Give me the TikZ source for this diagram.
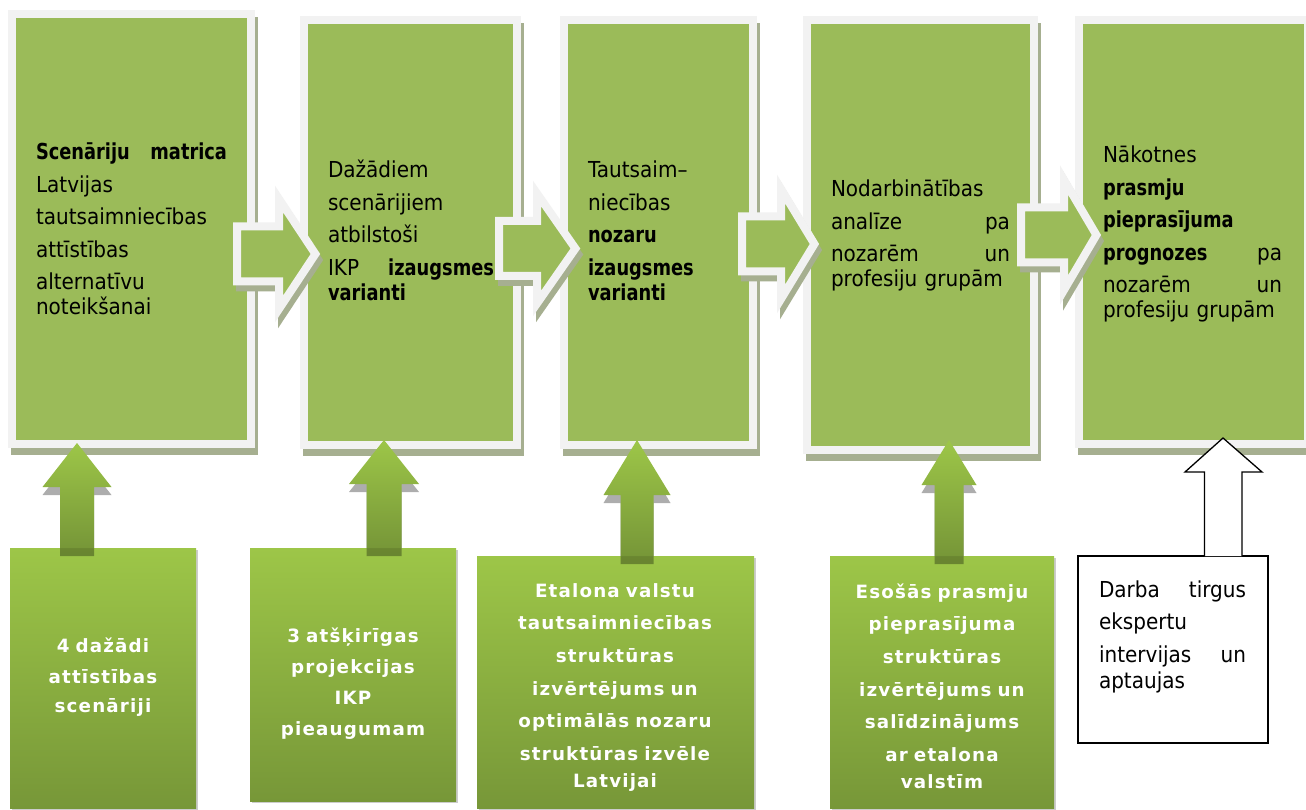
\documentclass[tikz,border=0pt]{standalone}
\usepackage{fontspec}
\setmainfont{DejaVu Sans}[UprightFeatures={FakeStretch=0.91}, BoldFeatures={FakeStretch=0.81}]
\newfontfamily\wfont{DejaVu Sans}[LetterSpace=6.3]
\definecolor{tgreen}{RGB}{155,187,89}
\definecolor{tframe}{RGB}{242,242,242}
\definecolor{tshadow}{RGB}{166,175,144}
\definecolor{gtop}{RGB}{157,198,72}
\definecolor{gbot}{RGB}{119,151,56}
\tikzset{
  topbox/.style={rectangle, draw=tframe, fill=tgreen, line width=8pt, inner sep=0pt, outer sep=0pt, anchor=north west},
  rarrow/.style={fill=tgreen, draw=tframe, line width=8pt, line join=miter},
  rshadow/.style={fill=tshadow, draw=tshadow, line width=8pt, line join=miter},
  blackt/.style={inner sep=0pt, outer sep=0pt, anchor=base west, align=left, text=black, font=\fontsize{22}{32.5}\selectfont},
  whitet/.style={inner sep=0pt, outer sep=0pt, anchor=base, align=center, text=white, font=\wfont\bfseries\fontsize{18.3}{32.7}\selectfont},
  botbox/.style={rectangle, inner sep=0pt, outer sep=0pt, anchor=north west, top color=gtop, bottom color=gbot, draw=none},
  upshadow/.style={fill=black, fill opacity=0.32},
  uparrow/.style={top color=gtop, bottom color=gbot, draw=none},
  whitebox/.style={rectangle, draw=black, fill=white, line width=1.3pt, inner sep=0pt, outer sep=0pt, anchor=north west},
}
% top box: name, outer x1 y1 x2 y2
\newcommand\topbx[5]{%
  \fill[tshadow] ({#2+3},{#3+7}) rectangle ({#4+3},{#5+7});
  \node[topbox, minimum width=#4pt-#2pt-8pt, minimum height=#5pt-#3pt-8pt] (#1) at ({#2+4},{#3+4}) {};
}
% right block arrow: outer left L, centre C, outer head back H, outer tip X
\newcommand\rarr[4]{%
  \path[rshadow, shift={(3,6)}] ({#1+4},{#2-27.5}) -- ({#3+4},{#2-27.5}) -- ({#3+4},{#2-55}) -- ({#4-6.6},#2) -- ({#3+4},{#2+55}) -- ({#3+4},{#2+27.5}) -- ({#1+4},{#2+27.5}) -- cycle;
  \path[rarrow] ({#1+4},{#2-27.5}) -- ({#3+4},{#2-27.5}) -- ({#3+4},{#2-55}) -- ({#4-6.6},#2) -- ({#3+4},{#2+55}) -- ({#3+4},{#2+27.5}) -- ({#1+4},{#2+27.5}) -- cycle;
}
% bottom box: name x1 y1 x2 y2
\newcommand\botbx[5]{%
  \fill[black!20] ({#2+2},{#3+2}) rectangle ({#4+2},{#5+2});
  \node[botbox, minimum width=#4pt-#2pt, minimum height=#5pt-#3pt] (#1) at (#2,#3) {};
}
% up arrow: cx tip base hw sw bottom
\newcommand\uparr[6]{%
  \fill[upshadow, shift={(0,8)}] (#1,#2) -- ({#1+#4},#3) -- ({#1+#5},#3) -- ({#1+#5},#6) -- ({#1-#5},#6) -- ({#1-#5},#3) -- ({#1-#4},#3) -- cycle;
  \path[uparrow] (#1,#2) -- ({#1+#4},#3) -- ({#1+#5},#3) -- ({#1+#5},#6) -- ({#1-#5},#6) -- ({#1-#5},#3) -- ({#1-#4},#3) -- cycle;
}
\begin{document}
\begin{tikzpicture}[x=1pt, y=-1pt]
\useasboundingbox (0,0) rectangle (1306,810);
\fill[white] (0,0) rectangle (1306,810);

% top boxes
\topbx{t1}{8}{10}{255}{448}
\topbx{t2}{300}{16}{521}{449}
\topbx{t3}{560}{16}{757}{449}
\topbx{t4}{803}{16}{1038}{454}
\topbx{t5}{1075}{16}{1312}{448}

% right arrows between top boxes
\rarr{233}{254}{275}{322}
\rarr{495}{248.5}{533}{582}
\rarr{738}{244}{777}{821}
\rarr{1017}{235}{1060}{1103}

% bottom boxes
\botbx{b1}{10}{548}{196}{808}
\botbx{b2}{250}{548}{456}{801}
\botbx{b3}{477}{556}{754}{808}
\botbx{b4}{830}{556}{1054}{808}
\node[whitebox, minimum width=190pt, minimum height=187pt] (b5) at (1078,556) {};

% up arrows
\uparr{77}{443}{487}{34.5}{17}{548}
\uparr{384}{440}{484}{35}{17.5}{548}
\uparr{637}{440}{495}{33.5}{16.5}{556}
\uparr{949}{440}{485}{27.5}{14.5}{556}
\filldraw[fill=white, draw=black, line width=1.3pt, line join=miter]
  (1204.5,556) -- (1204.5,472) -- (1185,472) -- (1223,438) -- (1262,472) -- (1242,472) -- (1242,556);

% texts of top boxes
\node[blackt, text width=191pt] (t1text) at (36,160)
  {\textbf{Scenāriju\hfill matrica}\\ Latvijas\\ tautsaimniecības\\ attīstības\\ alternatīvu\\[-7.5pt] noteikšanai};
\node[blackt, text width=166pt] (t2text) at (328,178)
  {Dažādiem\\ scenārijiem\\ atbilstoši\\ IKP\hfill\textbf{izaugsmes}\\[-7.5pt] \textbf{varianti}};
\node[blackt, text width=150pt] (t3text) at (588,178)
  {Tautsaim–\\ niecības\\ \textbf{nozaru}\\ \textbf{izaugsmes}\\[-7.5pt] \textbf{varianti}};
\node[blackt, text width=179pt] (t4text) at (831,197)
  {Nodarbinātības\\ analīze\hfill pa\\ nozarēm\hfill un\\[-7.5pt] profesiju grupām};
\node[blackt, text width=179pt] (t5text) at (1103,163)
  {Nākotnes\\ \textbf{prasmju}\\ \textbf{pieprasījuma}\\ \textbf{prognozes}\hfill pa\\ nozarēm\hfill un\\[-7.5pt] profesiju grupām};

% texts of bottom boxes
\node[whitet, text width=180pt] (b1text) at (103,652)
  {4 dažādi\\[-1.7pt] attīstības\\[-3.7pt] scenāriji};
\node[whitet, text width=200pt] (b2text) at (353,642)
  {3 atšķirīgas\\[-1.7pt] projekcijas\\[-1.7pt] IKP\\[-1.7pt] pieaugumam};
\node[whitet, text width=270pt] (b3text) at (615,597)
  {Etalona valstu\\ tautsaimniecības\\ struktūras\\ izvērtējums un\\ optimālās nozaru\\ struktūras izvēle\\[-6.2pt] Latvijai};
\node[whitet, text width=220pt] (b4text) at (942,598)
  {Esošās prasmju\\ pieprasījuma\\ struktūras\\ izvērtējums un\\ salīdzinājums\\ ar etalona\\[-6.2pt] valstīm};
\node[blackt, text width=147pt] (b5text) at (1099,597)
  {Darba\hfill tirgus\\ ekspertu\\ intervijas\hfill un\\[-6.5pt] aptaujas};
\end{tikzpicture}
\end{document}
